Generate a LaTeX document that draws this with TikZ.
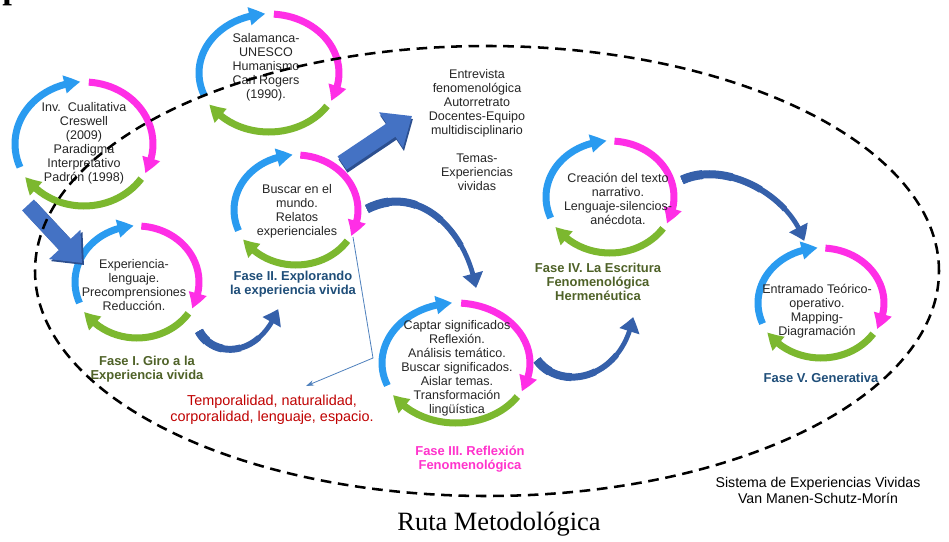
\documentclass[tikz,border=0pt]{standalone}
\usepackage{fontspec}
\setmainfont{Liberation Sans}
\newfontfamily\serifa{Liberation Serif}
\usetikzlibrary{arrows.meta,bending,calc}
\definecolor{cycblue}{HTML}{2A9BF0}
\definecolor{cycmag}{HTML}{FF2EE6}
\definecolor{cycgreen}{HTML}{7CB82F}
\definecolor{darrow}{HTML}{3560AA}
\definecolor{barrow}{HTML}{4472C4}
\definecolor{barrowdk}{HTML}{2C4F8F}
\definecolor{lblgreen}{HTML}{4F6228}
\definecolor{lblblue}{HTML}{1F4E79}
\definecolor{lblmag}{HTML}{FF33CC}
\definecolor{lblred}{HTML}{C00000}
\definecolor{thinblue}{HTML}{4F81BD}
\definecolor{txt}{HTML}{262626}
\tikzset{
 cyc/.style={line width=5.25pt, -{Triangle[width=13pt,length=12pt,bend]}},
 ctext/.style={align=center, text=txt, font=\fontsize{9.4}{10.5}\selectfont, inner sep=0pt},
 phase/.style={align=center, font=\fontsize{9.7}{10.5}\selectfont\bfseries, inner sep=0pt},
 plaintext/.style={align=center, text=txt, font=\fontsize{9.4}{10.5}\selectfont, inner sep=0pt},
 fatarrow/.style={draw=barrow, line width=12pt, -{Triangle[width=31pt,length=19pt,fill=barrow]}},
 fatshadow/.style={draw=barrowdk, line width=12pt, -{Triangle[width=31pt,length=19pt,fill=barrowdk]}},
 curvbody/.style={draw=darrow},
 curvhead/.style={draw=darrow, line width=3.6pt, -{Triangle[width=15pt,length=11pt,bend,fill=darrow]}},
 dashring/.style={draw=black, line width=1.9pt, dash pattern=on 8pt off 5pt},
 thinarrow/.style={draw=thinblue, line width=0.6pt, -{Stealth[length=6pt,width=4pt]}},
}
\newcommand\cycsym[5]{%
  \coordinate (#1) at (#2,#3);
  \draw[cyc,cycblue] (#1) ++(202:#4 and #5) arc[start angle=202,end angle=93,x radius=#4,y radius=#5];
  \draw[cyc,cycmag] (#1) ++(86:#4 and #5) arc[start angle=86,end angle=-28,x radius=#4,y radius=#5];
  \draw[cyc,cycgreen] (#1) ++(-34:#4 and #5) arc[start angle=-34,end angle=-148,x radius=#4,y radius=#5];
}
% sub-curve [0,t] of the Bezier #1p0..#1p3, drawn with style #3
\newcommand\subcurve[3]{%
  \coordinate (#1qa) at ($(#1p0)!#2!(#1p1)$);
  \coordinate (#1qb) at ($(#1p1)!#2!(#1p2)$);
  \coordinate (#1qc) at ($(#1p2)!#2!(#1p3)$);
  \coordinate (#1ra) at ($(#1qa)!#2!(#1qb)$);
  \coordinate (#1rb) at ($(#1qb)!#2!(#1qc)$);
  \coordinate (#1sa) at ($(#1ra)!#2!(#1rb)$);
  \draw[#3] (#1p0) .. controls (#1qa) and (#1ra) .. (#1sa);
}
% curved arrow, thick at the tail: #1 prefix, #2 start, #3 control 1, #4 control 2, #5 end
\newcommand\taperarrow[5]{%
  \coordinate (#1p0) at #2; \coordinate (#1p1) at #3;
  \coordinate (#1p2) at #4; \coordinate (#1p3) at #5;
  \draw[curvhead] (#1p0) .. controls (#1p1) and (#1p2) .. (#1p3);
  \subcurve{#1}{0.75}{curvbody, line width=4.4pt}
  \subcurve{#1}{0.55}{curvbody, line width=5.2pt}
  \subcurve{#1}{0.35}{curvbody, line width=6.0pt}
  \subcurve{#1}{0.15}{curvbody, line width=6.8pt}
}
\begin{document}
\begin{tikzpicture}[x=0.75pt,y=0.75pt]
\useasboundingbox (0,0) rectangle (949,-542);
\fill[white] (0,0) rectangle (949,-542);

% partial glyph at the top-left corner
\node[anchor=base west, inner sep=0pt, font=\serifa\bfseries\fontsize{26}{28}\selectfont] (pglyph) at (2,1) {p};

% cycle symbols
\cycsym{c0}{84}{-144}{69}{62}
\cycsym{c1}{269}{-73}{70}{59}
\cycsym{f1}{137}{-282}{62}{56}
\cycsym{f2}{296}{-210}{62}{55}
\cycsym{f3}{456}{-363}{74}{60}
\cycsym{f4}{610}{-197}{64}{56}
\cycsym{f5}{821}{-303}{63}{55}

% texts in the cycles
\node[ctext] (t0) at (84,-143) {Inv.\ \ Cualitativa\\Creswell\\(2009)\\Paradigma\\Interpretativo\\Padrón (1998)};
\node[ctext] (t1) at (266,-67) {Salamanca-\\UNESCO\\Humanismo\\Carl Rogers\\(1990).};
\node[ctext] (t2) at (134,-285) {Experiencia-\\lenguaje.\\Precomprensiones\\Reducción.};
\node[ctext] (t3) at (297,-211) {Buscar en el\\mundo.\\Relatos\\experienciales};
\node[ctext] (t4) at (457,-368) {Captar significados\\Reflexión.\\Análisis temático.\\Buscar significados.\\Aislar temas.\\Transformación\\lingüística};
\node[ctext] (t5) at (618,-199) {Creación del texto\\narrativo.\\Lenguaje-silencios-\\anécdota.};
\node[ctext] (t6) at (817,-311) {Entramado Teórico-\\operativo.\\Mapping-\\Diagramación};

% phase labels
\node[phase, text=lblgreen] (l1) at (147,-369) {Fase I. Giro\ a la\\Experiencia vivida};
\node[phase, text=lblblue] (l2) at (293,-284) {Fase II. Explorando\\la experiencia vivida};
\node[phase, text=lblmag] (l3) at (470,-459) {Fase III. Reflexión\\Fenomenológica};
\node[phase, text=lblgreen] (l4) at (598,-282) {Fase IV. La Escritura\\Fenomenológica\\Hermenéutica};
\node[phase, text=lblblue] (l5) at (821,-378) {Fase V. Generativa};

% free texts
\node[plaintext] (ent) at (477,-103) {Entrevista\\fenomenológica\\Autorretrato\\Docentes-Equipo\\multidisciplinario};
\node[plaintext] (tem) at (477,-172) {Temas-\\Experiencias\\vividas};
\node[align=center, text=lblred, inner sep=0pt, font=\fontsize{10.8}{12}\selectfont] (red) at (272,-410) {Temporalidad, naturalidad,\\corporalidad, lenguaje, espacio.};
\node[align=center, text=black, inner sep=0pt, font=\fontsize{10.6}{12}\selectfont] (sis) at (818,-490) {Sistema de Experiencias Vividas\\Van Manen-Schutz-Morín};
\node[inner sep=0pt, font=\serifa\fontsize{19.8}{22}\selectfont] (title) at (499,-524) {Ruta Metodológica};

% straight block arrows
\coordinate (a1s) at (28,-205);
\coordinate (a1e) at (82,-263);
\coordinate (a2s) at (342,-163);
\coordinate (a2e) at (412,-116);
\draw[fatshadow] ($(a1s)+(2,-2)$) -- ($(a1e)+(2,-2)$);
\draw[fatarrow] (a1s) -- (a1e);
\draw[fatshadow] ($(a2s)+(1,-3)$) -- ($(a2e)+(1,-3)$);
\draw[fatarrow] (a2s) -- (a2e);

% curved arrows
\taperarrow{ca}{(199,-331)}{(212,-357)}{(258,-360)}{(278,-309)}
\taperarrow{cb}{(367,-209)}{(415,-184)}{(465,-225)}{(476,-288)}
\taperarrow{cc}{(537,-360)}{(560,-392)}{(622,-380)}{(633,-317)}
\taperarrow{cd}{(682,-180)}{(725,-160)}{(790,-195)}{(804,-241)}

% thin arrow
\coordinate (th1) at (353,-237);
\coordinate (th2) at (373,-358);
\coordinate (th3) at (306,-386);
\draw[thinarrow] (th1) -- (th2) -- (th3);

% dashed ellipse
\draw[dashring] (487,-271) ellipse [x radius=452, y radius=225];
\end{tikzpicture}
\end{document}
